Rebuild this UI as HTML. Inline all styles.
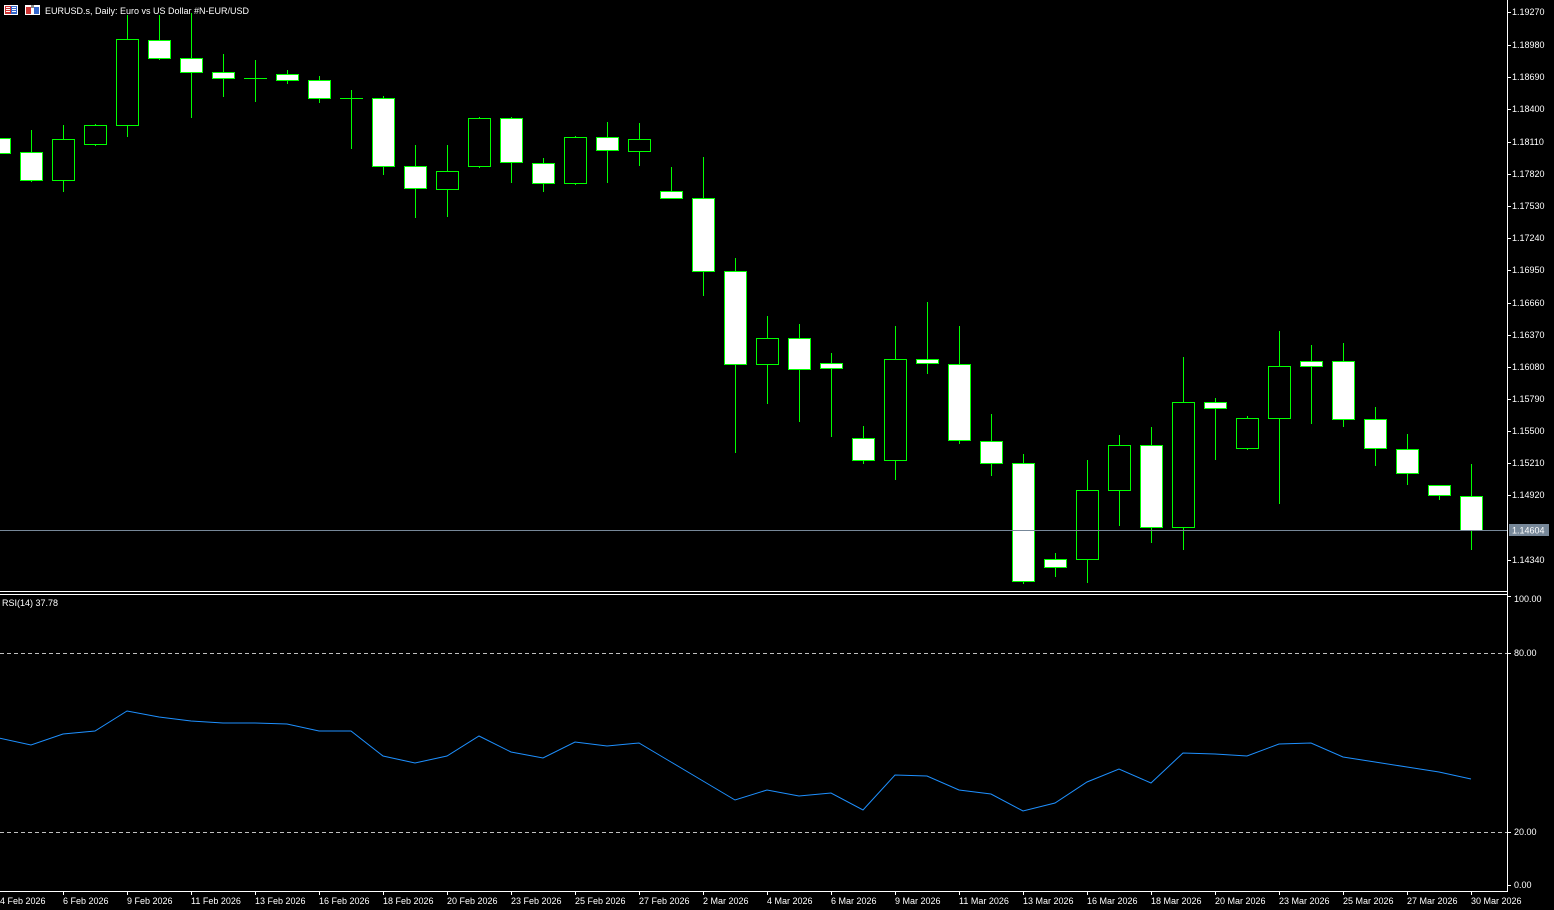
<!DOCTYPE html>
<html><head><meta charset="utf-8"><style>
html,body{margin:0;padding:0;background:#000;width:1554px;height:910px;overflow:hidden}
svg{display:block}
text{font-family:"Liberation Sans","DejaVu Sans",sans-serif;font-size:9px;fill:#fff}
</style></head><body>
<svg id="s" width="1554" height="910" xmlns="http://www.w3.org/2000/svg" shape-rendering="crispEdges">
<rect width="1554" height="910" fill="#000"/>
<g id="candles"></g>
<line x1="0" y1="530.5" x2="1507" y2="530.5" stroke="#778899"/>
<rect x="1509" y="524" width="40" height="12" fill="#778899"/>
<text x="1512" y="533.5" style="fill:#fff">1.14604</text>
<line x1="0" y1="591.5" x2="1508" y2="591.5" stroke="#fff"/>
<line x1="0" y1="594.5" x2="1508" y2="594.5" stroke="#fff"/>
<line x1="1507.5" y1="0" x2="1507.5" y2="892" stroke="#fff"/>
<line x1="0" y1="891.5" x2="1508" y2="891.5" stroke="#fff"/>
<line x1="0" y1="653.5" x2="1507" y2="653.5" stroke="#c0c0c0" stroke-dasharray="4,3"/>
<line x1="0" y1="832.5" x2="1507" y2="832.5" stroke="#c0c0c0" stroke-dasharray="4,3"/>
<polyline shape-rendering="auto" fill="none" stroke="#1e90ff" stroke-width="1" points="-1,738 31,745 63,734 95,731 127,711 159,717 191,721 223,723 255,723 287,724 319,731 351,731 383,756 415,763 447,756 479,736 511,752 543,758 575,742 607,746 639,743 671,762 703,781 735,800 767,790 799,796 831,793 863,810 895,775 927,776 959,790 991,794 1023,811 1055,803 1087,782 1119,769 1151,783 1183,753 1215,754 1247,756 1279,744 1311,743 1343,757 1375,762 1407,767 1439,772 1471,779"/>
<g id="ticks" stroke="#fff"></g>
<text x="45" y="14">EURUSD.s, Daily:  Euro vs US Dollar #N-EUR/USD</text>
<g>
<rect x="4" y="5" width="14" height="10" fill="#fff"/><rect x="5" y="6" width="12" height="8" fill="#c33"/>
<rect x="11" y="6" width="6" height="8" fill="#36c"/><rect x="6" y="7" width="4" height="1" fill="#fff"/><rect x="6" y="9" width="4" height="1" fill="#fff"/><rect x="6" y="11" width="4" height="1" fill="#fff"/><rect x="12" y="7" width="4" height="1" fill="#fff"/><rect x="12" y="9" width="4" height="1" fill="#fff"/><rect x="12" y="11" width="4" height="1" fill="#fff"/>
<rect x="25" y="5" width="15" height="10" fill="#fff"/><rect x="26" y="7" width="5" height="7" fill="#c33"/><rect x="34" y="7" width="5" height="7" fill="#36c"/><rect x="31" y="5" width="3" height="3" fill="#888"/>
</g>
<text x="2" y="606">RSI(14) 37.78</text>
<text x="1512" y="15">1.19270</text>
<text x="1512" y="48">1.18980</text>
<text x="1512" y="80">1.18690</text>
<text x="1512" y="112">1.18400</text>
<text x="1512" y="145">1.18110</text>
<text x="1512" y="177">1.17820</text>
<text x="1512" y="209">1.17530</text>
<text x="1512" y="241">1.17240</text>
<text x="1512" y="273">1.16950</text>
<text x="1512" y="306">1.16660</text>
<text x="1512" y="338">1.16370</text>
<text x="1512" y="370">1.16080</text>
<text x="1512" y="402">1.15790</text>
<text x="1512" y="434">1.15500</text>
<text x="1512" y="466">1.15210</text>
<text x="1512" y="498">1.14920</text>
<text x="1512" y="563">1.14340</text>
<text x="1514" y="602">100.00</text>
<text x="1514" y="656">80.00</text>
<text x="1514" y="835">20.00</text>
<text x="1514" y="888">0.00</text>
<text x="0" y="904">4 Feb 2026</text>
<text x="63" y="904">6 Feb 2026</text>
<text x="127" y="904">9 Feb 2026</text>
<text x="191" y="904">11 Feb 2026</text>
<text x="255" y="904">13 Feb 2026</text>
<text x="319" y="904">16 Feb 2026</text>
<text x="383" y="904">18 Feb 2026</text>
<text x="447" y="904">20 Feb 2026</text>
<text x="511" y="904">23 Feb 2026</text>
<text x="575" y="904">25 Feb 2026</text>
<text x="639" y="904">27 Feb 2026</text>
<text x="703" y="904">2 Mar 2026</text>
<text x="767" y="904">4 Mar 2026</text>
<text x="831" y="904">6 Mar 2026</text>
<text x="895" y="904">9 Mar 2026</text>
<text x="959" y="904">11 Mar 2026</text>
<text x="1023" y="904">13 Mar 2026</text>
<text x="1087" y="904">16 Mar 2026</text>
<text x="1151" y="904">18 Mar 2026</text>
<text x="1215" y="904">20 Mar 2026</text>
<text x="1279" y="904">23 Mar 2026</text>
<text x="1343" y="904">25 Mar 2026</text>
<text x="1407" y="904">27 Mar 2026</text>
<text x="1471" y="904">30 Mar 2026</text>
</svg>
<script>
var C=[
['w',138,153,136,155],['w',152,180,130,182],['b',139,180,125,192],['b',125,144,124,146],['b',39,125,15,137],
['w',40,58,15,60],['w',58,72,13,118],['w',72,78,54,97],['d',78,78,60,102],['w',74,80,70,84],
['w',80,98,76,103],['d',98,98,90,149],['w',98,166,96,175],['w',166,188,145,218],['b',171,189,145,217],
['b',118,166,117,168],['w',118,162,117,183],['w',163,183,158,192],['b',137,183,136,185],['w',137,150,122,183],
['b',139,151,123,166],['w',191,198,167,199],['w',198,271,157,296],['w',271,364,258,453],['b',338,364,316,404],
['w',338,369,324,422],['w',363,368,353,437],['w',438,460,426,464],['b',359,460,326,480],['w',359,363,302,374],
['w',364,440,326,444],['w',441,463,414,476],['w',463,581,454,584],['w',559,567,553,577],['b',490,559,460,583],
['b',445,490,435,526],['w',445,527,427,543],['b',402,527,357,550],['w',402,408,398,460],['b',418,448,416,450],
['b',366,418,331,504],['w',361,366,345,424],['w',361,419,343,427],['w',419,448,407,466],['w',449,473,434,485],
['w',485,495,485,500],['w',496,530,464,550]];
var g=document.getElementById('candles'),h='';
C.forEach(function(c,i){var x=-1+32*i;
h+='<line x1="'+(x+.5)+'" y1="'+c[3]+'" x2="'+(x+.5)+'" y2="'+c[4]+'" stroke="#00ff00"/>';
if(c[0]=='d'){h+='<line x1="'+(x-11)+'" y1="'+(c[1]+.5)+'" x2="'+(x+12)+'" y2="'+(c[1]+.5)+'" stroke="#00ff00"/>';}
else{h+='<rect x="'+(x-10.5)+'" y="'+(c[1]+.5)+'" width="22" height="'+(c[2]-c[1])+'" fill="'+(c[0]=='w'?'#fff':'#000')+'" stroke="#00ff00"/>';}
});
g.innerHTML=h;
var t='',ys=[12,45,77,109,142,174,206,238,270,303,335,367,399,431,463,495,560,596,653,832,885];
ys.forEach(function(y){t+='<line x1="1507" y1="'+(y+.5)+'" x2="1511" y2="'+(y+.5)+'"/>';});
for(var k=0;k<24;k++){var x=-1+64*k+.5;t+='<line x1="'+x+'" y1="891" x2="'+x+'" y2="895"/>';}
document.getElementById('ticks').innerHTML=t;
</script>
</body></html>
